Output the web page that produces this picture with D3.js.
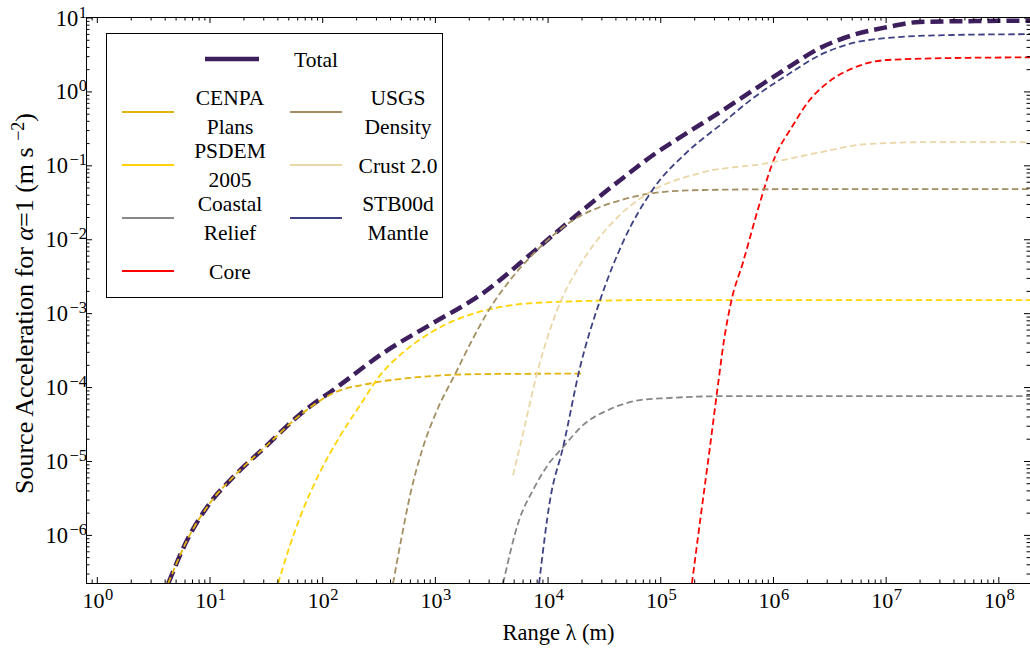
<!DOCTYPE html>
<html lang="en">
<head>
<meta charset="UTF-8">
<title>Source acceleration vs range</title>
<style>
  body { margin: 0; background: #fff; }
  text { font-family: "Liberation Serif", "Times New Roman", serif; fill: #000; }
</style>
</head>
<body>
<script src="https://d3js.org/d3.v7.min.js"></script>
<script>

  // range lambda (m) and source acceleration (m s^-2)
  var totalX   = [4.3, 6.33, 10.1, 16.2, 32.5, 63.7, 136, 347, 964, 2680, 7430, 20650, 44000, 86500, 173000, 340000, 668000, 1.34e6, 2.62e6, 5.15e6, 1.03e7, 2.0e7, 7.8e7, 2e8];
  var totalY   = [2.2e-7, 8.5e-7, 2.7e-6, 6.05e-6, 1.64e-5, 4.3e-5, 1.0e-4, 2.88e-4, 7.35e-4, 1.87e-3, 6.7e-3, 0.025, 0.063, 0.138, 0.274, 0.526, 1.04, 2.07, 3.87, 5.8, 7.4, 8.7, 8.97, 9.05];

  var cenpaX   = [4.3, 6.33, 10.1, 16.2, 32.5, 63.7, 126, 277, 695, 2680, 20650];
  var cenpaY   = [2.2e-7, 8.5e-7, 2.7e-6, 6.05e-6, 1.64e-5, 4.18e-5, 8.3e-5, 1.13e-4, 1.36e-4, 1.5e-4, 1.52e-4];

  var psdemX   = [40.6, 51.9, 63.7, 95.7, 144, 217, 327, 491, 964, 3090, 10550, 81300, 2e8];
  var psdemY   = [2.2e-7, 7.3e-7, 1.74e-6, 7.1e-6, 2.17e-5, 5.7e-5, 1.45e-4, 2.71e-4, 5.7e-4, 1.13e-3, 1.41e-3, 1.5e-3, 1.5e-3];

  var coastalX = [4030, 5590, 7430, 9890, 13730, 20650, 35900, 66200, 115000, 442000, 2e8];
  var coastalY = [2.2e-7, 1.58e-6, 4.04e-6, 8.5e-6, 1.54e-5, 3.06e-5, 5.03e-5, 6.67e-5, 7.1e-5, 7.55e-5, 7.55e-5];

  var usgsX    = [425, 501, 603, 771, 1047, 1513, 2140, 3090, 4650, 8590, 16900, 29300, 57500, 86500, 226000, 1.74e6, 2e8];
  var usgsY    = [2.2e-7, 8.5e-7, 3.46e-6, 1.41e-5, 4.89e-5, 1.5e-4, 4.32e-4, 1.17e-3, 2.8e-3, 7.8e-3, 0.0182, 0.0273, 0.0373, 0.0422, 0.0463, 0.0476, 0.0476];

  var crustX   = [4940, 6070, 8080, 12150, 19450, 35900, 81300, 226000, 887000, 2.47e6, 6.85e6, 2.64e7, 2e8];
  var crustY   = [6.4e-6, 2.39e-5, 1.55e-4, 1.1e-3, 4.5e-3, 0.0156, 0.0436, 0.0787, 0.107, 0.147, 0.194, 0.206, 0.206];

  var mantleX  = [8410, 10520, 13730, 19450, 29250, 46800, 86500, 173000, 340000, 668000, 1.34e6, 2.62e6, 5.15e6, 1.03e7, 3.97e7, 2e8];
  var mantleY  = [2.2e-7, 2.96e-6, 1.54e-5, 1.87e-4, 1.5e-3, 9.2e-3, 0.0478, 0.151, 0.351, 0.815, 1.67, 3.11, 4.52, 5.29, 5.8, 5.95];

  var coreX    = [191000, 225000, 276000, 325000, 368000, 425000, 543000, 769000, 1.0e6, 1.51e6, 2.05e6, 3.03e6, 5.15e6, 1.03e7, 3.97e7, 2e8];
  var coreY    = [2.2e-7, 1.49e-6, 1.54e-5, 1.06e-4, 4.32e-4, 1.41e-3, 4.9e-3, 0.0318, 0.111, 0.351, 0.719, 1.30, 2.07, 2.66, 2.83, 2.89];

  // tick labels (powers of ten)
  var xExponents = [0, 1, 2, 3, 4, 5, 6, 7, 8];
  var yExponents = [-6, -5, -4, -3, -2, -1, 0, 1];

  var series = [
    {label: ["Total"],             xs: totalX,   ys: totalY,   color: "#3e1f5e", width: 4.5, dash: "13,6"},
    {label: ["CENPA", "Plans"],    xs: cenpaX,   ys: cenpaY,   color: "#e3b30c", width: 1.8, dash: "6.5,3.5"},
    {label: ["PSDEM", "2005"],     xs: psdemX,   ys: psdemY,   color: "#ffd400", width: 1.8, dash: "6.5,3.5"},
    {label: ["Coastal", "Relief"], xs: coastalX, ys: coastalY, color: "#878787", width: 1.8, dash: "6.5,3.5"},
    {label: ["Core"],              xs: coreX,    ys: coreY,    color: "#ff0000", width: 1.8, dash: "6.5,3.5"},
    {label: ["USGS", "Density"],   xs: usgsX,    ys: usgsY,    color: "#a38f61", width: 1.8, dash: "6.5,3.5"},
    {label: ["Crust 2.0"],         xs: crustX,   ys: crustY,   color: "#ead6a6", width: 1.8, dash: "6.5,3.5"},
    {label: ["STB00d", "Mantle"],  xs: mantleX,  ys: mantleY,  color: "#3c4282", width: 1.8, dash: "6.5,3.5"}
  ];

  var W = 1030, H = 648;
  var pLeft = 86.5, pRight = 1030.5, pTop = 17.5, pBottom = 583.5;

  var x = d3.scaleLog().domain([0.81, 1.93e8]).range([pLeft, pRight]);
  var y = d3.scaleLog().domain([2.2e-7, 10]).range([pBottom, pTop]);

  var svg = d3.select("body").append("svg")
      .attr("width", W)
      .attr("height", H);

  svg.append("defs").append("clipPath").attr("id", "plot")
    .append("rect")
      .attr("x", pLeft).attr("y", pTop)
      .attr("width", pRight - pLeft).attr("height", pBottom - pTop);

  // curves
  var line = d3.line()
      .x(function(d) { return x(d[0]); })
      .y(function(d) { return y(d[1]); })
      .curve(d3.curveMonotoneX);

  svg.append("g").attr("clip-path", "url(#plot)")
    .selectAll("path")
    .data(series)
    .enter().append("path")
      .attr("d", function(d) { return line(d3.zip(d.xs, d.ys)); })
      .attr("fill", "none")
      .attr("stroke", function(d) { return d.color; })
      .attr("stroke-width", function(d) { return d.width; })
      .attr("stroke-dasharray", function(d) { return d.dash; });

  // ticks: majors on decades, minors on 2..9
  function minors(lo, hi) {
    var out = [];
    for (var e = lo; e <= hi; e++)
      for (var k = 2; k <= 9; k++) out.push(k * Math.pow(10, e));
    return out;
  }
  var xMajor = xExponents.map(function(e) { return Math.pow(10, e); });
  var yMajor = yExponents.map(function(e) { return Math.pow(10, e); });
  var xMinor = minors(-1, 8).filter(function(v) { return v >= x.domain()[0] && v <= x.domain()[1]; });
  var yMinor = minors(-7, 0).filter(function(v) { return v >= y.domain()[0] && v <= y.domain()[1]; });

  function ticks(axis, vals, size, tx, ty) {
    var g = svg.append("g")
        .attr("transform", "translate(" + tx + "," + ty + ")")
        .call(axis.tickValues(vals).tickSize(-size).tickFormat(""));
    g.select(".domain").remove();
    g.selectAll("text").remove();
    g.selectAll("line").attr("stroke", "#000");
  }
  ticks(d3.axisBottom(x), xMajor, 6, 0, pBottom - 0.5);
  ticks(d3.axisBottom(x), xMinor, 3.5, 0, pBottom - 0.5);
  ticks(d3.axisTop(x), xMajor, 6, 0, pTop - 0.5);
  ticks(d3.axisTop(x), xMinor, 3.5, 0, pTop - 0.5);
  ticks(d3.axisLeft(y), yMajor, 6, pLeft - 0.5, 0);
  ticks(d3.axisLeft(y), yMinor, 3.5, pLeft - 0.5, 0);
  ticks(d3.axisRight(y), yMajor, 6, pRight - 0.5, 0);
  ticks(d3.axisRight(y), yMinor, 3.5, pRight - 0.5, 0);

  // frame
  svg.append("rect")
      .attr("x", pLeft).attr("y", pTop)
      .attr("width", pRight - pLeft).attr("height", pBottom - pTop)
      .attr("fill", "none")
      .attr("stroke", "#000")
      .attr("stroke-width", 1);

  // tick labels: 10 with superscript exponent
  function power(sel, e) {
    sel.append("tspan").text("10");
    sel.append("tspan").attr("dx", e < 0 ? 1.5 : 0.5).attr("dy", -8).attr("font-size", 16.5)
        .text(e < 0 ? "\u2212" + (-e) : String(e));
  }
  xExponents.forEach(function(e) {
    svg.append("text")
        .attr("x", x(Math.pow(10, e)) + 1)
        .attr("y", 608)
        .attr("text-anchor", "middle")
        .attr("font-size", 22)
        .call(power, e);
  });
  yExponents.forEach(function(e) {
    svg.append("text")
        .attr("x", 87)
        .attr("y", y(Math.pow(10, e)) + 8)
        .attr("text-anchor", "end")
        .attr("font-size", 22.5)
        .call(power, e);
  });

  // axis titles
  svg.append("text")
      .attr("x", (pLeft + pRight) / 2)
      .attr("y", 640)
      .attr("text-anchor", "middle")
      .attr("font-size", 22.5)
      .text("Range \u03bb (m)");

  var yt = svg.append("text")
      .attr("transform", "translate(33," + ((pTop + pBottom) / 2 + 3) + ") rotate(-90)")
      .attr("text-anchor", "middle")
      .attr("font-size", 26);
  yt.append("tspan").text("Source Acceleration for ");
  yt.append("tspan").attr("font-style", "italic").text("\u03b1");
  yt.append("tspan").text("=1 (m s ");
  yt.append("tspan").attr("dy", -9).attr("font-size", 18).text("\u22122");
  yt.append("tspan").attr("dy", 9).text(")");

  // legend
  var lg = svg.append("g");
  lg.append("rect")
      .attr("x", 106.5).attr("y", 33.5)
      .attr("width", 336).attr("height", 264)
      .attr("fill", "#fff")
      .attr("stroke", "#000")
      .attr("stroke-width", 1);

  var slots = [
    {x0: 205, x1: 259, tx: 316, ly: 59},
    {x0: 122, x1: 174, tx: 230, ly: 112},
    {x0: 122, x1: 174, tx: 230, ly: 165},
    {x0: 122, x1: 174, tx: 230, ly: 218},
    {x0: 122, x1: 174, tx: 230, ly: 271},
    {x0: 290, x1: 342, tx: 398, ly: 112},
    {x0: 290, x1: 342, tx: 398, ly: 165},
    {x0: 290, x1: 342, tx: 398, ly: 218}
  ];

  series.forEach(function(s, i) {
    var p = slots[i];
    lg.append("line")
        .attr("x1", p.x0).attr("x2", p.x1)
        .attr("y1", p.ly).attr("y2", p.ly)
        .attr("stroke", s.color)
        .attr("stroke-width", s.width);
    var t = lg.append("text")
        .attr("text-anchor", "middle")
        .attr("font-size", 21.5);
    if (s.label.length === 1) {
      t.attr("x", p.tx).attr("y", p.ly + 7.5).text(s.label[0]);
    } else {
      t.append("tspan").attr("x", p.tx).attr("y", p.ly - 7.5).text(s.label[0]);
      t.append("tspan").attr("x", p.tx).attr("y", p.ly + 21.5).text(s.label[1]);
    }
  });

</script>
</body>
</html>
